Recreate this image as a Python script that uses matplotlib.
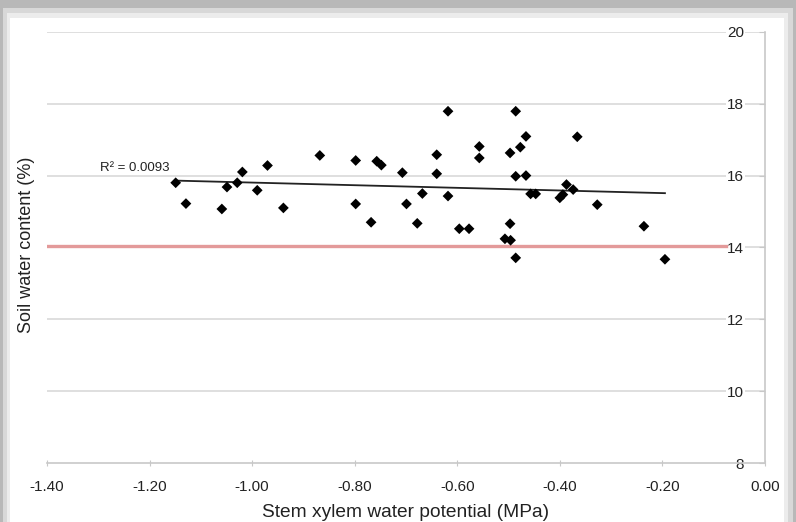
import matplotlib
matplotlib.use("Agg")
import matplotlib.pyplot as plt
from matplotlib.patches import Rectangle

plt.rcParams['font.family'] = ['Liberation Sans', 'DejaVu Sans']

# Data
xylem_potential = [-1.149, -1.129, -1.059, -1.049, -1.029, -1.019, -0.990, -0.970, -0.939,
                   -0.868, -0.798, -0.798, -0.768, -0.757, -0.748, -0.707, -0.699, -0.678,
                   -0.668, -0.640, -0.640, -0.618, -0.618, -0.596, -0.577, -0.557, -0.557,
                   -0.507, -0.496, -0.497, -0.497, -0.486, -0.486, -0.486, -0.477, -0.466,
                   -0.466, -0.457, -0.447, -0.400, -0.394, -0.387, -0.374, -0.366, -0.327,
                   -0.236, -0.195]
soil_water = [15.80, 15.22, 15.07, 15.68, 15.80, 16.10, 15.59, 16.28, 15.10,
              16.56, 16.42, 15.21, 14.70, 16.40, 16.29, 16.08, 15.21, 14.67,
              15.50, 16.58, 16.05, 17.79, 15.43, 14.52, 14.52, 16.81, 16.49,
              14.24, 14.20, 14.66, 16.63, 17.79, 15.98, 13.71, 16.79, 17.09,
              16.00, 15.49, 15.49, 15.38, 15.47, 15.75, 15.61, 17.08, 15.19,
              14.59, 13.67]
trend_x = [-1.15, -0.195]
trend_y = [15.86, 15.51]
threshold = 14.05
threshold_x = [-1.40, -0.076]
r2_label = "R² = 0.0093"
x_ticks = [-1.40, -1.20, -1.00, -0.80, -0.60, -0.40, -0.20, 0.00]
y_ticks = [8, 10, 12, 14, 16, 18, 20]

fig = plt.figure(figsize=(7.96, 5.22), dpi=100)
fig.patch.set_facecolor('#b8b8b8')
# card shadow + white card
for rect, col in [((0.004, 0.0, 0.992, 0.985), '#d8d8d8'),
                  ((0.009, 0.0, 0.981, 0.975), '#ececec'),
                  ((0.013, 0.0, 0.972, 0.965), 'white')]:
    p = Rectangle(rect[:2], rect[2], rect[3], transform=fig.transFigure,
                  facecolor=col, edgecolor='none', zorder=-10)
    fig.patches.append(p)

ax = fig.add_axes([0.059, 0.113, 0.902, 0.826])
ax.set_zorder(5)
ax.set_facecolor('none')
ax.set_xlim(-1.40, 0.0)
ax.set_ylim(8, 20)

for yv in y_ticks[1:]:
    ax.axhline(yv, color='#d9d9d9', lw=1.2, zorder=1)

ax.plot(threshold_x, [threshold, threshold], color='#e39a9a', lw=2.4, zorder=2)
ax.plot(trend_x, trend_y, color='#222222', lw=1.3, zorder=3)
ax.scatter(xylem_potential, soil_water, marker='D', s=30, color='black',
           edgecolors='none', zorder=4)
ax.text(-1.228, 16.22, r2_label, fontsize=9.5, ha='center', va='center', color='#222222')

for s in ['top', 'left']:
    ax.spines[s].set_visible(False)
for s in ['bottom', 'right']:
    ax.spines[s].set_color('#c8c8c8')
    ax.spines[s].set_linewidth(1.2)

ax.set_xticks(x_ticks)
ax.set_xticklabels([f"{v:.2f}" for v in x_ticks])
ax.tick_params(axis='x', direction='inout', length=5, color='#c8c8c8', labelsize=11,
               labelcolor='#222222', pad=10)

ax.yaxis.tick_right()
ax.set_yticks(y_ticks)
ax.set_yticklabels([str(v) for v in y_ticks])
ax.tick_params(axis='y', direction='in', length=4, color='#c8c8c8', labelsize=11,
               labelcolor='#222222', pad=-15)
for lab in ax.get_yticklabels():
    lab.set_ha('right')
    lab.set_bbox(dict(facecolor='white', edgecolor='none', pad=1))

ax.set_xlabel("Stem xylem water potential (MPa)", fontsize=13.8, color='#222222', labelpad=7)
fig.text(0.033, 0.531, "Soil water content (%)", rotation=90, fontsize=13,
         color='#222222', ha='center', va='center')

fig.savefig("out.png", dpi=100, facecolor=fig.get_facecolor())
